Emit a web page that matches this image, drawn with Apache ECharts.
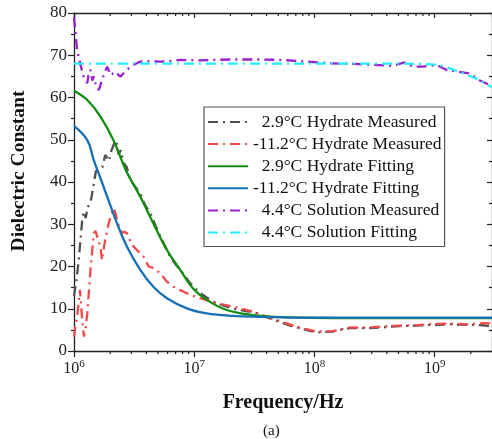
<!DOCTYPE html>
<html>
<head>
<meta charset="utf-8">
<script src="https://cdn.jsdelivr.net/npm/echarts@6/dist/echarts.min.js"></script>
<style>
  html, body { margin: 0; padding: 0; background: #fff; }
  #chart { width: 492px; height: 439px; }
</style>
</head>
<body>
<div id="chart"></div>
<script>
// series names, in legend order
const seriesNames = [
  '2.9°C Hydrate Measured',
  '-11.2°C Hydrate Measured',
  '2.9°C Hydrate Fitting',
  '-11.2°C Hydrate Fitting',
  '4.4°C Solution Measured',
  '4.4°C Solution Fitting'
]

// 2.9°C hydrate, measured
const hyd29MeasFreq = [1.0e6, 1.05e6, 1.09e6, 1.13e6, 1.17e6, 1.2e6, 1.25e6, 1.3e6, 1.38e6, 1.45e6, 1.52e6, 1.62e6, 1.72e6, 1.82e6, 1.95e6, 2.05e6, 2.15e6, 2.25e6, 2.35e6, 2.45e6, 2.58e6, 2.75e6, 2.94e6, 3.2e6, 3.56e6, 3.9e6, 4.32e6, 4.8e6, 5.22e6, 5.8e6, 6.31e6, 7.0e6, 7.65e6, 8.5e6, 9.27e6, 1.02e7, 1.12e7, 1.28e7, 1.45e7, 1.65e7, 1.86e7, 2.1e7, 2.41e7, 2.75e7, 3.09e7, 3.6e7, 4.27e7, 5.48e7, 6.5e7, 7.58e7, 9.0e7, 1.04e8, 1.2e8, 1.42e8, 1.7e8, 1.97e8, 2.71e8, 3.7e8, 5.13e8, 7.05e8, 9.6e8, 1.33e9, 1.83e9, 2.5e9, 3.0e9]
const hyd29MeasVal = [13, 17, 21, 26, 31, 33, 31.5, 34, 35.5, 39, 42.5, 43.2, 43.5, 46.4, 45, 47.5, 49, 49.8, 46.5, 47.5, 44.5, 43.5, 40.5, 39, 37.3, 34.5, 32.6, 29.5, 27.1, 24.5, 22.3, 20.5, 19.2, 17.5, 16, 14.8, 13.7, 12.6, 11.7, 11, 10.5, 10, 9.7, 9.4, 9.3, 8.5, 7.7, 6.6, 5.9, 5.4, 4.8, 4.4, 4.5, 4.6, 5.1, 5.4, 5.4, 5.6, 5.9, 6.0, 6.2, 6.3, 6.2, 6.1, 5.8]

// -11.2°C hydrate, measured
const hyd112MeasFreq = [1.0e6, 1.03e6, 1.06e6, 1.09e6, 1.12e6, 1.145e6, 1.17e6, 1.21e6, 1.25e6, 1.29e6, 1.33e6, 1.37e6, 1.42e6, 1.46e6, 1.51e6, 1.56e6, 1.62e6, 1.66e6, 1.71e6, 1.76e6, 1.82e6, 1.92e6, 2.01e6, 2.14e6, 2.22e6, 2.28e6, 2.4e6, 2.51e6, 2.62e6, 2.76e6, 3.04e6, 3.34e6, 3.79e6, 4.18e6, 4.59e6, 5.22e6, 5.93e6, 6.73e6, 7.65e6, 9.27e6, 1.12e7, 1.54e7, 2.12e7, 3.09e7, 3.6e7, 4.27e7, 5.48e7, 7.58e7, 1.04e8, 1.42e8, 1.97e8, 2.71e8, 3.7e8, 5.13e8, 7.05e8, 9.6e8, 1.33e9, 1.83e9, 2.5e9, 3.0e9]
const hyd112MeasVal = [3.4, 6, 8.1, 11, 14.5, 11, 7.3, 3.4, 5.5, 8.9, 14, 19.2, 24, 27.9, 28.4, 28.2, 25.5, 24.7, 21.5, 24, 26.3, 29.5, 31.8, 33.8, 32.5, 31, 29, 27.9, 28.2, 27.9, 25.1, 23.9, 22.3, 20, 19.6, 18.4, 16.4, 15.2, 14.4, 13.3, 12.5, 11.3, 10.5, 9.3, 8.6, 7.9, 6.8, 5.5, 4.6, 4.7, 5.6, 5.5, 5.8, 6.0, 6.1, 6.4, 6.5, 6.3, 6.6, 6.5]

// 2.9°C hydrate, fitting
const hyd29FitFreq = [1.0e6, 1.29e6, 1.66e6, 2.13e6, 2.7e6, 3.56e6, 4.57e6, 5.93e6, 7.65e6, 9.78e6, 1.27e7, 1.86e7, 2.73e7, 3.53e7, 6.0e7, 1.5e8, 1.0e9, 3.0e9]
const hyd29FitVal = [61.6, 59.4, 55.5, 49.9, 42.8, 36.5, 30.2, 23.9, 19.2, 14.8, 12.1, 9.7, 8.7, 8.3, 7.95, 7.8, 7.8, 7.8]

// -11.2°C hydrate, fitting
const hyd112FitFreq = [1.0e6, 1.29e6, 1.46e6, 1.66e6, 1.89e6, 2.28e6, 2.76e6, 3.56e6, 4.57e6, 5.93e6, 8.69e6, 1.27e7, 2.11e7, 3.53e7, 1.0e8, 1.0e9, 3.0e9]
const hyd112FitVal = [53.3, 49.9, 45.2, 40.9, 36.5, 30.2, 24.7, 19.2, 15.2, 12.5, 10.1, 8.9, 8.3, 8.1, 7.9, 7.9, 7.9]

// 4.4°C solution, measured
const solMeasFreq = [1.0e6, 1.03e6, 1.06e6, 1.1e6, 1.15e6, 1.21e6, 1.29e6, 1.33e6, 1.37e6, 1.42e6, 1.46e6, 1.53e6, 1.61e6, 1.71e6, 1.8e6, 1.89e6, 2.01e6, 2.21e6, 2.43e6, 2.76e6, 3.12e6, 3.56e6, 4.32e6, 5.22e6, 6.31e6, 7.65e6, 1.12e7, 2.0e7, 3.53e7, 5.3e7, 7.58e7, 1.35e8, 2.39e8, 4.48e8, 5.62e8, 6.56e8, 7.94e8, 1.04e9, 1.26e9, 1.95e9, 2.36e9, 3.0e9]
const solMeasVal = [79, 75.2, 71.2, 69.3, 67, 64.6, 63.4, 66, 66.5, 64, 65, 62.5, 61.8, 64.1, 66, 67.3, 65.3, 66.1, 64.9, 66.6, 67.7, 68.5, 68.6, 68.5, 68.6, 68.9, 68.8, 69, 69, 68.9, 68.6, 68.1, 67.9, 67.5, 68.3, 67.3, 67.3, 67.7, 66.5, 65.7, 64.1, 62.7]

// 4.4°C solution, fitting
const solFitFreq = [1.0e6, 1.0e7, 1.0e8, 5.0e8, 1.04e9, 1.6e9, 2.36e9, 3.0e9]
const solFitVal = [68, 68, 68, 68, 67.7, 66.1, 64.1, 62.4]

const colors = ['#505050', '#f24a4a', '#118e11', '#1670b6', '#9b1fcf', '#22eeff']
const font = "'Liberation Serif', 'Times New Roman', serif"
const dashDot = [10, 5, 2, 5]

const xMin = 1e6
const xMax = 3e9
const yMin = 0
const yMax = 80
const decades = [1e6, 1e7, 1e8, 1e9]
const minorSteps = [2, 3, 4, 5, 6, 7, 8, 9]

const zip = (fs, vs) => fs.map((f, i) => [f, vs[i]])

const chart = echarts.init(document.getElementById('chart'))

const tickLine = { color: '#222', width: 1.2 }
const lineAxis = { lineStyle: { color: '#222', width: 1.3 }, onZero: false }

const series = [
  { data: zip(hyd29MeasFreq, hyd29MeasVal), dash: true, smooth: false },
  { data: zip(hyd112MeasFreq, hyd112MeasVal), dash: true, smooth: false },
  { data: zip(hyd29FitFreq, hyd29FitVal), dash: false, smooth: 0.4 },
  { data: zip(hyd112FitFreq, hyd112FitVal), dash: false, smooth: 0.4 },
  { data: zip(solMeasFreq, solMeasVal), dash: true, smooth: false },
  { data: zip(solFitFreq, solFitVal), dash: true, smooth: 0.3 }
].map((s, i) => ({
  name: seriesNames[i],
  type: 'line',
  xAxisIndex: 0,
  yAxisIndex: 0,
  data: s.data,
  smooth: s.smooth,
  showSymbol: false,
  symbol: 'none',
  animation: false,
  lineStyle: { color: colors[i], width: 2.3, type: s.dash ? dashDot : 'solid' },
  itemStyle: { color: colors[i] }
}))

chart.setOption({
  animation: false,
  title: {
    text: '(a)',
    left: 263,
    top: 424,
    padding: 0,
    textStyle: { fontFamily: font, fontSize: 15, fontWeight: 'normal', color: '#111' }
  },
  grid: { left: 74, top: 13, width: 420, height: 338 },
  legend: {
    orient: 'vertical',
    left: 204,
    top: 107,
    padding: [6, 3, 5, 3],
    itemWidth: 40,
    itemHeight: 14,
    itemGap: 4.1,
    borderColor: '#555',
    borderWidth: 1.2,
    itemStyle: { opacity: 0 },
    data: seriesNames,
    formatter: (n) => (n[0] === '-' ? n : '\u00a0\u00a0' + n),
    textStyle: { fontFamily: font, fontSize: 17.5, color: '#111', lineHeight: 17.5 }
  },
  xAxis: [
    {
      type: 'log',
      logBase: 10,
      min: xMin,
      max: xMax,
      position: 'bottom',
      name: 'Frequency/Hz',
      nameLocation: 'middle',
      nameGap: 42,
      nameTextStyle: { fontFamily: font, fontSize: 20, fontWeight: 'bold', color: '#111' },
      axisLine: lineAxis,
      axisTick: { show: true, length: 6, lineStyle: tickLine },
      axisLabel: {
        margin: 8,
        showMaxLabel: false,
        formatter: (v) => '{b|10}{s|' + Math.round(Math.log10(v)) + '}',
        rich: {
          b: { fontFamily: font, fontSize: 16, color: '#222' },
          s: { fontFamily: font, fontSize: 11, color: '#222', padding: [0, 0, 9, 0] }
        }
      },
      splitLine: { show: false }
    },
    {
      type: 'log',
      logBase: 10,
      min: xMin,
      max: xMax,
      position: 'top',
      axisLine: lineAxis,
      axisTick: { show: true, inside: true, length: 5, lineStyle: tickLine },
      axisLabel: { show: false },
      splitLine: { show: false }
    }
  ],
  yAxis: [
    {
      type: 'value',
      min: yMin,
      max: yMax,
      interval: 10,
      position: 'left',
      name: 'Dielectric Constant',
      nameLocation: 'middle',
      nameGap: 45,
      nameTextStyle: { fontFamily: font, fontSize: 19.5, fontWeight: 'bold', color: '#111', padding: [0, 0, 0, 22] },
      axisLine: lineAxis,
      axisTick: { show: true, length: 6, lineStyle: tickLine },
      minorTick: { show: true, splitNumber: 2, length: 3, lineStyle: tickLine },
      axisLabel: { fontFamily: font, fontSize: 17, color: '#222', margin: 7 },
      splitLine: { show: false }
    },
    {
      type: 'value',
      min: yMin,
      max: yMax,
      interval: 10,
      position: 'right',
      axisLine: lineAxis,
      axisTick: { show: true, inside: true, length: 5, lineStyle: tickLine },
      minorTick: { show: true, splitNumber: 2, length: 3, lineStyle: tickLine },
      axisLabel: { show: false },
      splitLine: { show: false }
    }
  ],
  series: series
})

// log minor ticks (2..9 per decade) on bottom and top, placed through the x scale
const yBottom = chart.convertToPixel({ yAxisIndex: 0 }, yMin)
const yTop = chart.convertToPixel({ yAxisIndex: 0 }, yMax)
const minorTicks = []
decades.forEach((d) => {
  minorSteps.forEach((k) => {
    const f = k * d
    if (f >= xMax) return
    const x = chart.convertToPixel({ xAxisIndex: 0 }, f)
    minorTicks.push({
      type: 'line', silent: true,
      shape: { x1: x, y1: yBottom, x2: x, y2: yBottom + 3 },
      style: { stroke: '#222', lineWidth: 1.2 }
    })
    minorTicks.push({
      type: 'line', silent: true,
      shape: { x1: x, y1: yTop, x2: x, y2: yTop + 3 },
      style: { stroke: '#222', lineWidth: 1.2 }
    })
  })
})
chart.setOption({ graphic: minorTicks })
</script>
</body>
</html>
